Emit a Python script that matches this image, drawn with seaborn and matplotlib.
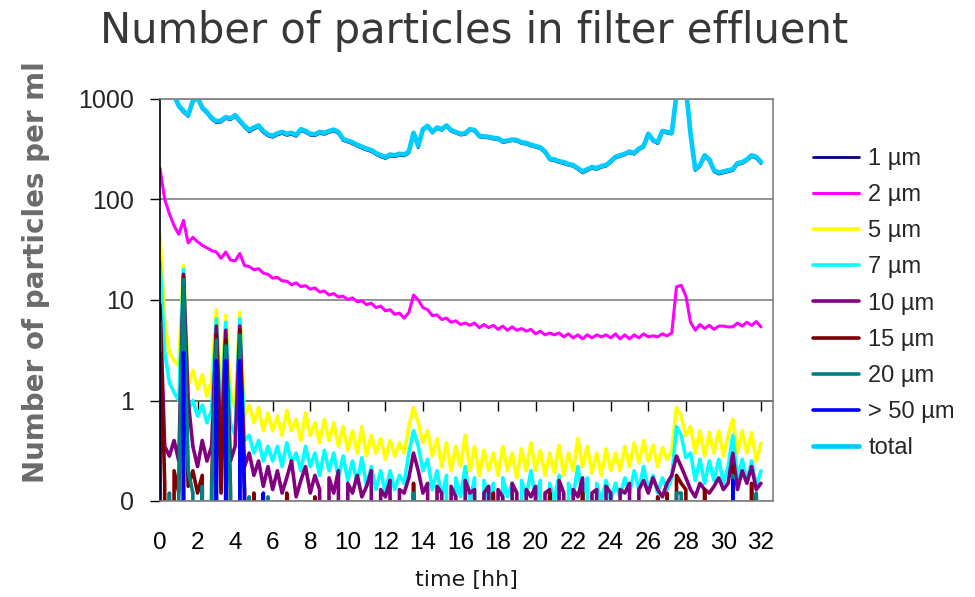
import numpy as np
import matplotlib
matplotlib.use("Agg")
import matplotlib.pyplot as plt
import seaborn as sns
from matplotlib.ticker import FixedLocator, FixedFormatter, NullLocator

# Counts per ml, sampled every 15 minutes over 32 hours
time_h = np.arange(129) * 0.25

total = [2200, 1900, 1500, 1080, 860, 760, 690, 960, 1040, 820, 740, 650,
         600, 610, 660, 640, 690, 610, 540, 490, 520, 545, 480, 445,
         430, 455, 470, 450, 460, 440, 500, 480, 450, 445, 470, 460,
         480, 495, 470, 400, 385, 370, 350, 335, 320, 310, 290, 275,
         265, 280, 275, 285, 280, 300, 460, 340, 500, 540, 470, 520,
         500, 545, 490, 470, 450, 455, 500, 490, 430, 425, 420, 410,
         405, 380, 385, 395, 390, 370, 365, 350, 340, 330, 300, 255,
         250, 240, 235, 225, 220, 205, 190, 200, 210, 205, 215, 220,
         240, 265, 275, 285, 300, 290, 320, 340, 450, 390, 370, 480,
         470, 460, 1100, 1800, 1300, 450, 200, 220, 275, 250, 195, 185,
         190, 195, 200, 230, 235, 250, 275, 265, 235]

um_1 = [2150, 1850, 1460, 1050, 835, 735, 670, 935, 1010, 795, 720, 630,
        580, 590, 640, 620, 668, 590, 522, 472, 502, 527, 463, 430,
        415, 440, 454, 435, 445, 425, 484, 465, 436, 431, 455, 445,
        465, 480, 455, 387, 373, 358, 339, 324, 310, 300, 281, 266,
        256, 271, 266, 276, 271, 290, 445, 328, 488, 527, 458, 507,
        487, 532, 478, 458, 438, 443, 488, 478, 419, 414, 409, 399,
        394, 370, 375, 385, 380, 360, 355, 341, 331, 321, 292, 248,
        243, 233, 228, 219, 214, 199, 184, 194, 204, 199, 209, 214,
        233, 258, 268, 278, 292, 282, 312, 331, 439, 380, 360, 468,
        458, 448, 1070, 1760, 1270, 440, 194, 213, 267, 243, 189, 179,
        184, 189, 194, 223, 228, 243, 267, 257, 228]

um_2 = [205, 100, 72, 55, 45, 62, 37, 42, 38, 35, 33, 31,
        30, 26, 30, 25, 24.5, 29, 22, 21.5, 20, 20.5, 18.5, 18,
        16.5, 16.8, 15.5, 15.4, 14.2, 14.8, 13.6, 13.9, 12.8, 13.2, 12.0, 12.3,
        11.2, 11.6, 10.7, 10.9, 10.1, 10.5, 9.6, 9.8, 9.0, 9.3, 8.4, 8.7,
        7.8, 8.0, 7.2, 7.4, 6.6, 7.5, 11.2, 10.0, 8.4, 8.0, 7.0, 7.1,
        6.4, 6.6, 6.0, 6.2, 5.7, 5.9, 5.6, 5.9, 5.3, 5.7, 5.3, 5.6,
        5.1, 5.5, 5.0, 5.4, 5.0, 5.2, 4.9, 5.1, 4.6, 4.9, 4.5, 4.7,
        4.5, 4.7, 4.3, 4.6, 4.2, 4.5, 4.1, 4.5, 4.2, 4.5, 4.3, 4.5,
        4.2, 4.6, 4.1, 4.5, 4.1, 4.5, 4.2, 4.6, 4.3, 4.4, 4.3, 4.6,
        4.4, 4.7, 13.5, 14.0, 11.0, 6.0, 5.0, 5.7, 5.2, 5.6, 5.1, 5.5,
        5.5, 5.4, 5.4, 5.9, 5.5, 6.0, 5.6, 6.1, 5.4]

um_5 = [45, 6, 3.0, 2.5, 2.2, 22, 1.4, 2.0, 1.3, 1.8, 1.1, 1.6,
        8.0, 1.0, 7.0, 1.2, 0.85, 7.5, 0.7, 0.9, 0.6, 0.85, 0.5, 0.75,
        0.5, 0.7, 0.45, 0.8, 0.5, 0.65, 0.4, 0.75, 0.45, 0.6, 0.38, 0.65,
        0.4, 0.6, 0.35, 0.55, 0.32, 0.5, 0.3, 0.55, 0.28, 0.45, 0.3, 0.42,
        0.26, 0.4, 0.28, 0.38, 0.3, 0.55, 0.85, 0.6, 0.38, 0.5, 0.28, 0.42,
        0.22, 0.38, 0.2, 0.35, 0.22, 0.45, 0.2, 0.35, 0.18, 0.32, 0.2, 0.3,
        0.18, 0.35, 0.2, 0.3, 0.17, 0.33, 0.2, 0.38, 0.2, 0.32, 0.18, 0.3,
        0.19, 0.36, 0.18, 0.3, 0.2, 0.42, 0.22, 0.35, 0.19, 0.3, 0.18, 0.33,
        0.2, 0.3, 0.2, 0.35, 0.22, 0.38, 0.24, 0.4, 0.25, 0.36, 0.22, 0.34,
        0.26, 0.32, 0.85, 0.7, 0.45, 0.55, 0.3, 0.5, 0.28, 0.48, 0.3, 0.5,
        0.28, 0.45, 0.65, 0.3, 0.5, 0.3, 0.48, 0.25, 0.38]

um_7 = [24, 3, 1.5, 1.2, 1.0, 20, 0.8, 1.0, 0.7, 0.9, 0.6, 0.8,
        6.5, 0.55, 6.0, 0.6, 0.45, 6.5, 0.4, 0.45, 0.3, 0.4, 0.25, 0.35,
        0.25, 0.35, 0.22, 0.38, 0.24, 0.3, 0.2, 0.35, 0.22, 0.3, 0.18, 0.32,
        0.2, 0.3, 0.17, 0.28, 0.16, 0.25, 0.15, 0.27, 0.14, 0.22, 0.13, 0.2,
        0.12, 0.2, 0.13, 0.18, 0.15, 0.3, 0.5, 0.35, 0.2, 0.26, 0.13, 0.2,
        0.11, 0.18, 0, 0.17, 0.11, 0.22, 0.1, 0.17, 0, 0.16, 0.1, 0.15,
        0, 0.17, 0.11, 0.15, 0, 0.16, 0.11, 0.2, 0.1, 0.16, 0, 0.15,
        0.1, 0.18, 0, 0.15, 0.11, 0.22, 0.11, 0.17, 0, 0.15, 0.1, 0.16,
        0.1, 0.15, 0.11, 0.17, 0.12, 0.2, 0.13, 0.22, 0.13, 0.18, 0.12, 0.17,
        0.13, 0.17, 0.55, 0.45, 0.27, 0.3, 0.16, 0.26, 0.15, 0.25, 0.16, 0.26,
        0.15, 0.22, 0.45, 0.17, 0.26, 0.16, 0.25, 0.14, 0.2]

um_10 = [9, 0.35, 0.28, 0.4, 0.25, 18, 1.0, 0.35, 0.22, 0.4, 0.25, 0.35,
         5.5, 0.3, 5.0, 0.25, 0.35, 5.5, 0.22, 0.3, 0.18, 0.25, 0.14, 0.22,
         0.13, 0.2, 0.12, 0.17, 0.25, 0.11, 0.16, 0.22, 0.12, 0.18, 0.13, 0,
         0.17, 0.12, 0.2, 0, 0.15, 0.12, 0.18, 0.11, 0.14, 0.2, 0, 0.13,
         0.11, 0.16, 0, 0.13, 0.12, 0.17, 0.3, 0.2, 0.12, 0.15, 0, 0.14,
         0.12, 0, 0.14, 0.11, 0, 0.16, 0.12, 0.13, 0, 0.12, 0.14, 0,
         0.13, 0.11, 0, 0.15, 0.12, 0, 0.13, 0.11, 0.14, 0, 0.12, 0.13,
         0, 0.16, 0.12, 0, 0.13, 0.11, 0.17, 0, 0.12, 0.13, 0, 0.14,
         0.12, 0, 0.13, 0.12, 0.15, 0, 0.13, 0.16, 0.12, 0.17, 0.13, 0.11,
         0.15, 0.18, 0.28, 0.22, 0.17, 0.13, 0.11, 0.15, 0.13, 0.12, 0.14, 0.17,
         0.13, 0.15, 0.3, 0.13, 0.2, 0.15, 0.22, 0.13, 0.15]

um_15 = [8, 0.15, 0, 0.2, 0.12, 17, 0.14, 0.2, 0.12, 0.18, 0, 0.15,
         4.5, 0.12, 4.0, 0.14, 0, 5.0, 0.13, 0, 0.12, 0, 0, 0,
         0, 0, 0, 0.12, 0, 0, 0, 0, 0, 0.11, 0, 0,
         0, 0, 0, 0, 0, 0, 0, 0, 0, 0, 0, 0,
         0, 0, 0, 0, 0, 0, 0.15, 0, 0, 0, 0, 0,
         0, 0, 0, 0, 0, 0, 0, 0, 0, 0, 0, 0.12,
         0, 0, 0, 0, 0, 0, 0, 0, 0, 0, 0, 0.12,
         0, 0, 0, 0, 0, 0, 0.12, 0, 0, 0, 0, 0,
         0, 0, 0, 0, 0, 0, 0, 0, 0, 0, 0.11, 0,
         0.12, 0, 0.18, 0.15, 0.13, 0, 0, 0, 0.13, 0, 0, 0,
         0, 0, 0.22, 0, 0, 0, 0.15, 0, 0]

um_20 = [6, 0, 0.12, 0, 0.15, 16, 0.2, 0.12, 0, 0.14, 0, 0.12,
         4.0, 0, 3.5, 0.12, 0, 4.5, 0, 0.11, 0, 0, 0, 0.11,
         0, 0, 0, 0, 0, 0, 0, 0, 0, 0, 0, 0,
         0, 0, 0, 0, 0, 0, 0, 0, 0, 0, 0, 0,
         0, 0, 0, 0, 0, 0, 0.12, 0, 0, 0, 0, 0,
         0, 0, 0, 0, 0, 0, 0, 0, 0, 0, 0, 0,
         0, 0, 0, 0, 0, 0, 0, 0, 0, 0, 0, 0,
         0, 0, 0, 0, 0, 0, 0, 0, 0, 0, 0, 0,
         0, 0, 0, 0, 0, 0, 0, 0, 0, 0, 0, 0,
         0, 0, 0.12, 0.12, 0, 0, 0, 0, 0, 0, 0, 0,
         0, 0, 0.18, 0, 0, 0, 0, 0.12, 0]

um_50 = [3.0, 0, 0, 0, 0, 3.0, 0, 0, 0, 0, 0, 0,
         2.5, 0, 2.5, 0, 0, 2.5, 0.12, 0, 0, 0, 0.12, 0,
         0, 0, 0, 0, 0, 0, 0, 0, 0, 0, 0, 0,
         0, 0, 0, 0, 0, 0, 0, 0, 0, 0, 0, 0,
         0, 0, 0, 0, 0, 0, 0, 0, 0, 0, 0, 0,
         0, 0, 0, 0, 0, 0, 0, 0, 0, 0, 0, 0,
         0, 0, 0, 0, 0, 0, 0, 0, 0, 0, 0, 0,
         0, 0, 0, 0, 0, 0, 0, 0, 0, 0, 0, 0,
         0, 0, 0, 0, 0, 0, 0, 0, 0, 0, 0, 0,
         0, 0, 0, 0, 0, 0, 0, 0, 0, 0, 0, 0,
         0, 0, 0.16, 0, 0, 0, 0, 0, 0]

series_labels = ["1 µm", "2 µm", "5 µm", "7 µm", "10 µm", "15 µm", "20 µm", "> 50 µm", "total"]
series_values = [um_1, um_2, um_5, um_7, um_10, um_15, um_20, um_50, total]
series_colors = ["#000080", "#FF00FF", "#FFFF00", "#00FFFF", "#800080",
                 "#800000", "#008080", "#0000FF", "#00CCFF"]
series_widths = [2.0, 2.2, 2.6, 2.6, 2.6, 2.6, 2.6, 2.6, 3.4]

y_ticks = [0.1, 1, 10, 100, 1000]
y_tick_labels = ["0", "1", "10", "100", "1000"]
x_ticks = list(range(0, 33, 2))

sns.set_style("white")
plt.rcParams["font.family"] = ["Liberation Sans", "DejaVu Sans"]

fig = plt.figure(figsize=(9.75, 5.97), dpi=100)
ax = fig.add_axes([160 / 975, 1 - 501 / 597, 613 / 975, 402 / 597])

for label, vals, color, lw in zip(series_labels, series_values, series_colors, series_widths):
    sns.lineplot(x=time_h, y=vals, ax=ax, color=color, linewidth=lw,
                 label=label, estimator=None, sort=False, legend=False)

ax.set_yscale("log")
ax.set_ylim(0.1, 1000)
ax.set_xlim(0, 32.64)
ax.set_xlabel("")
ax.set_ylabel("")

ax.yaxis.set_major_locator(FixedLocator(y_ticks))
ax.yaxis.set_major_formatter(FixedFormatter(y_tick_labels))
ax.yaxis.set_minor_locator(NullLocator())
ax.xaxis.set_major_locator(FixedLocator(x_ticks))
ax.xaxis.set_major_formatter(FixedFormatter([str(t) for t in x_ticks]))

ax.tick_params(axis="y", direction="out", length=7, width=1, color="#000000",
               labelsize=18, pad=12, left=True)
ax.tick_params(axis="x", length=0, labelsize=17.5, pad=22, labelcolor="#000000")
ax.grid(axis="y", color="#808080", linewidth=1.2)
ax.grid(axis="x", visible=False)
ax.set_axisbelow(True)

for side in ("top", "right", "bottom"):
    ax.spines[side].set_color("#808080")
    ax.spines[side].set_linewidth(1.2)
ax.spines["left"].set_color("#000000")
ax.spines["left"].set_linewidth(1.2)

# horizontal category axis crossing the value axis at 1
sec = ax.secondary_xaxis(0.25)
sec.set_xticks(x_ticks)
sec.tick_params(axis="x", direction="out", length=7, width=1, color="#000000",
                labelbottom=False, labeltop=False, bottom=True, top=False)
for side in ("top", "bottom"):
    sec.spines[side].set_color("#000000")
    sec.spines[side].set_linewidth(1.2)

handles, labels = ax.get_legend_handles_labels()
if ax.get_legend() is not None:
    ax.get_legend().remove()
fig.legend(handles, labels, loc="upper left", bbox_to_anchor=(813 / 975, 1 - 148 / 597),
           frameon=False, fontsize=17, handlelength=1.95, handletextpad=0.4,
           labelspacing=0.6, borderpad=0, borderaxespad=0)

fig.text(474 / 975, 1 - 31 / 597, "Number of particles in filter effluent",
         ha="center", va="center", fontsize=30, color="#383838",
         family=["DejaVu Sans"])
fig.text(36 / 975, 1 - 272 / 597, "Number of particles per ml", rotation=90,
         ha="center", va="center", fontsize=20, fontweight="bold", color="#6b6b6b",
         family=["DejaVu Sans"])
fig.text(466 / 975, 1 - 580 / 597, "time [hh]", ha="center", va="center",
         fontsize=16, color="#1a1a1a", family=["DejaVu Sans"])

fig.savefig("out.png", dpi=100)
